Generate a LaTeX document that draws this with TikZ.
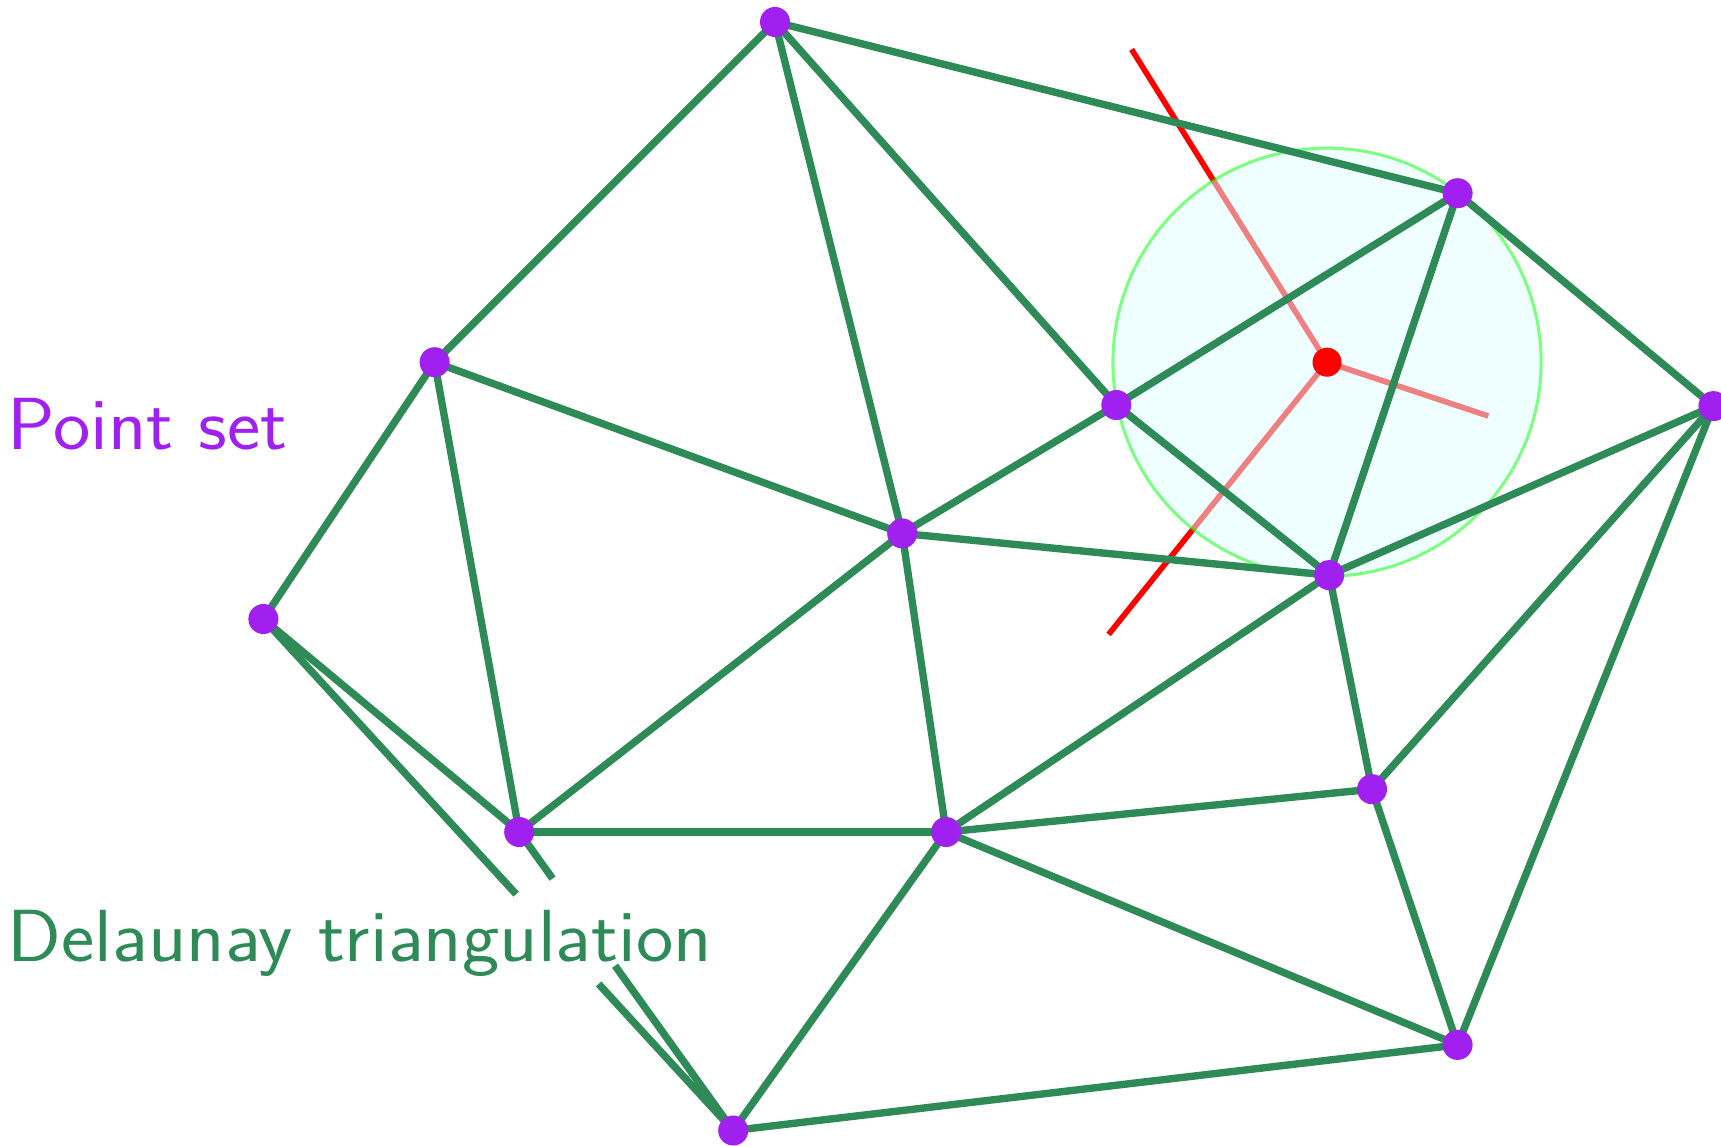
\documentclass[tikz,border=0pt]{standalone}
\usepackage{tikz}
\usetikzlibrary{calc}
\definecolor{dotpurple}{HTML}{A020F0}
\definecolor{edgegreen}{HTML}{2E8B57}
\definecolor{vorored}{HTML}{FF0000}
\definecolor{circfill}{HTML}{E0FFFF}
\definecolor{circline}{HTML}{00FF00}

\begin{document}
\begin{tikzpicture}[x=0.01cm, y=-0.01cm,
	edge/.style={edgegreen, line width=2.1pt},
	vor/.style={vorored, line width=1.6pt},
	lab/.style={anchor=base west, inner sep=0pt, xscale=1.075, font=\sffamily\fontsize{21}{25}\selectfont}]
	\useasboundingbox (0,0) rectangle (1721,1145);
	% point set
	\foreach \n/\x/\y in {1/775/22, 2/434.6/362.2, 3/263.4/619, 4/519.2/832,
		5/902.2/533.4, 6/946.1/832, 7/733.2/1130.5, 8/1116.3/405, 9/1457.6/193.2,
		10/1713.4/406.1, 11/1329.2/575.1, 12/1372/789.2, 13/1457.6/1044.9}
		\coordinate (p\n) at (\x,\y);
	% circumcentre and its voronoi edges
	\coordinate (cc) at (1327,362.2);
	\coordinate (v1) at (1131.6,49.4);
	\coordinate (v2) at (1108.6,634.4);
	\coordinate (v3) at (1488.3,416);
	\foreach \v in {v1,v2,v3}
		\draw[vor] (cc) -- (\v);
	\fill[circfill, fill opacity=0.5] (cc) circle (2.14cm);
	\draw[circline, opacity=0.5, line width=0.85pt] (cc) circle (2.14cm);
	% triangulation
	\foreach \a/\b in {1/2, 1/5, 1/8, 1/9, 2/3, 2/4, 2/5, 3/4, 4/5, 4/6,
		5/6, 5/8, 5/11, 6/7, 6/11, 6/12, 6/13, 7/13, 8/9, 8/11, 9/10, 9/11,
		10/11, 10/12, 10/13, 11/12, 12/13}
		\draw[edge] (p\a) -- (p\b);
	% edges broken by the label
	\draw[edge] (p3) -- ($(p3)!0.538!(p7)$);
	\draw[edge] ($(p3)!0.7135!(p7)$) -- (p7);
	\draw[edge] (p4) -- ($(p4)!0.156!(p7)$);
	\draw[edge] ($(p4)!0.448!(p7)$) -- (p7);
	\foreach \n in {1,...,13}
		\fill[dotpurple] (p\n) circle (0.15cm);
	\fill[vorored] (cc) circle (0.145cm);
	\node[lab, text=dotpurple] (ptlab) at (7,449) {Point set};
	\node[lab, text=edgegreen] (dtlab) at (7,961) {Delaunay triangulation};
\end{tikzpicture}
\end{document}
